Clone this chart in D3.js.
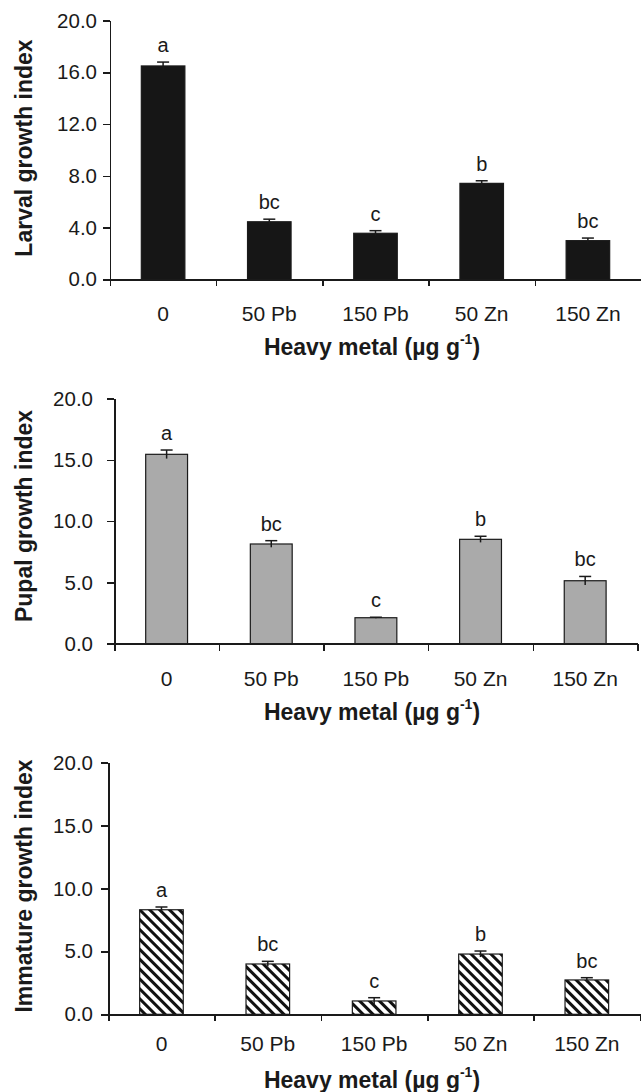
<!doctype html>
<html lang="en">
<head>
<meta charset="utf-8">
<title>Growth index by heavy metal</title>
<script src="https://cdn.jsdelivr.net/npm/d3@7"></script>
<style>
	body { margin: 0; background: #fff; }
	text { font-family: Arial, "Liberation Sans", Helvetica, sans-serif; fill: #1a1a1a; }
	.axis path, .axis line { stroke: #1a1a1a; stroke-width: 1.5; shape-rendering: crispEdges; }
	.axis text { font-size: 20.5px; }
	.x-label { font-size: 21px; }
	.title { font-size: 23px; font-weight: bold; }
	.letter { font-size: 20px; }
	.err { stroke: #1a1a1a; stroke-width: 1.5; }
</style>
</head>
<body>
<div id="viz"></div>
<script>

// DATA
var categories = ["0", "50 Pb", "150 Pb", "50 Zn", "150 Zn"];
var letters = ["a", "bc", "c", "b", "bc"];

var larval      = [16.5, 4.45, 3.56, 7.42, 2.99];
var larvalErr   = [0.30, 0.20, 0.20, 0.20, 0.20];
var pupal       = [15.46, 8.14, 2.12, 8.52, 5.14];
var pupalErr    = [0.35, 0.27, 0.04, 0.25, 0.35];
var immature    = [8.31, 4.00, 1.06, 4.79, 2.73];
var immatureErr = [0.22, 0.21, 0.26, 0.24, 0.18];

var larvalTicks = [0, 4, 8, 12, 16, 20];
var otherTicks  = [0, 5, 10, 15, 20];

(function(d3) {

	var w = 641, h = 1092;

	var svg = d3.select("#viz")
		.append("svg")
		.attr("width", w)
		.attr("height", h);

	// hatch for the immature panel
	var defs = svg.append("defs");
	defs.append("pattern")
		.attr("id", "hatch")
		.attr("patternUnits", "userSpaceOnUse")
		.attr("width", 7)
		.attr("height", 7)
		.attr("patternTransform", "rotate(-45)")
		.call(function(p) {
			p.append("rect").attr("width", 7).attr("height", 7).attr("fill", "#fff");
			p.append("rect").attr("width", 3).attr("height", 7).attr("fill", "#111");
		});

	// PANELS (layout only, values come from the arrays above)
	var panels = [
		{ values: larval, errs: larvalErr, ticks: larvalTicks, label: "Larval growth index",
		  left: 110, right: 641, top: 20.7, bottom: 279.3, tickLabelX: 97,
		  xLabelY: 313, xTitleY: 347, yTitleY: 148, fill: "#161616", barRatio: 0.41 },
		{ values: pupal, errs: pupalErr, ticks: otherTicks, label: "Pupal growth index",
		  left: 114.3, right: 637.5, top: 398.7, bottom: 643.7, tickLabelX: 93,
		  xLabelY: 678, xTitleY: 712, yTitleY: 516, fill: "#aaaaaa", barRatio: 0.40 },
		{ values: immature, errs: immatureErr, ticks: otherTicks, label: "Immature growth index",
		  left: 108.3, right: 640, top: 762.7, bottom: 1014.3, tickLabelX: 93,
		  xLabelY: 1043, xTitleY: 1080, yTitleY: 886, fill: "url(#hatch)", barRatio: 0.41 }
	];

	panels.forEach(function(p) {

		var g = svg.append("g");

		// SCALES
		var x = d3.scaleBand()
			.domain(categories)
			.range([p.left, p.right])
			.padding(0);

		var xEdges = d3.scaleLinear()
			.domain([0, categories.length])
			.range([p.left, p.right]);

		var y = d3.scaleLinear()
			.domain([0, 20])
			.range([p.bottom, p.top]);

		var bw = x.bandwidth() * p.barRatio;

		// BARS
		g.selectAll("rect.bar")
			.data(p.values)
			.enter()
			.append("rect")
			.attr("class", "bar")
			.attr("x", function(d, i) { return x(categories[i]) + (x.bandwidth() - bw) / 2; })
			.attr("y", function(d) { return y(d); })
			.attr("width", bw)
			.attr("height", function(d) { return y(0) - y(d); })
			.attr("fill", p.fill)
			.attr("stroke", "#1a1a1a")
			.attr("stroke-width", 1.2);

		// ERROR BARS
		var eb = g.selectAll("g.err")
			.data(p.values)
			.enter()
			.append("g")
			.attr("class", "err");

		var cx = function(d, i) { return x(categories[i]) + x.bandwidth() / 2; };

		eb.append("line")
			.attr("x1", cx).attr("x2", cx)
			.attr("y1", function(d, i) { return y(d - p.errs[i]); })
			.attr("y2", function(d, i) { return y(d + p.errs[i]); });

		eb.append("line")
			.attr("x1", function(d, i) { return cx(d, i) - 6; })
			.attr("x2", function(d, i) { return cx(d, i) + 6; })
			.attr("y1", function(d, i) { return y(d + p.errs[i]); })
			.attr("y2", function(d, i) { return y(d + p.errs[i]); });

		// SIGNIFICANCE LETTERS
		g.selectAll("text.letter")
			.data(p.values)
			.enter()
			.append("text")
			.attr("class", "letter")
			.attr("text-anchor", "middle")
			.attr("x", cx)
			.attr("y", function(d, i) { return y(d + p.errs[i]) - 10; })
			.text(function(d, i) { return letters[i]; });

		// Y AXIS
		var yAxis = g.append("g")
			.attr("class", "axis")
			.attr("transform", "translate(" + p.left + ",0)")
			.call(d3.axisLeft(y)
				.tickValues(p.ticks)
				.tickSize(7)
				.tickSizeOuter(0)
				.tickPadding(p.left - 7 - p.tickLabelX)
				.tickFormat(d3.format(".1f")));

		// X AXIS: edge ticks + centred labels
		g.append("g")
			.attr("class", "axis")
			.attr("transform", "translate(0," + p.bottom + ")")
			.call(d3.axisBottom(xEdges)
				.tickValues(d3.range(categories.length + 1))
				.tickSize(7)
				.tickSizeOuter(0)
				.tickFormat(""));

		g.selectAll("text.x-label")
			.data(categories)
			.enter()
			.append("text")
			.attr("class", "x-label")
			.attr("text-anchor", "middle")
			.attr("dominant-baseline", "central")
			.attr("x", function(d) { return x(d) + x.bandwidth() / 2; })
			.attr("y", p.xLabelY)
			.text(function(d) { return d; });

		// AXIS TITLES
		var xt = g.append("text")
			.attr("class", "title")
			.attr("text-anchor", "middle")
			.attr("dominant-baseline", "central")
			.attr("x", 372)
			.attr("y", p.xTitleY);
		xt.append("tspan").text("Heavy metal (\u00b5g g");
		xt.append("tspan").attr("dy", -8).style("font-size", "14px").text("-1");
		xt.append("tspan").attr("dy", 8).text(")");

		g.append("text")
			.attr("class", "title")
			.attr("text-anchor", "middle")
			.attr("dominant-baseline", "central")
			.attr("transform", "translate(24," + p.yTitleY + ") rotate(-90)")
			.text(p.label);
	});

})(d3);

</script>
</body>
</html>
